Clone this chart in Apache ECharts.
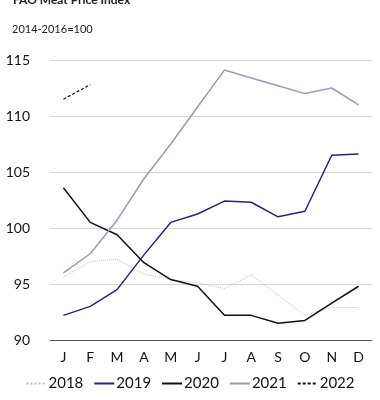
<!DOCTYPE html>
<html><head><meta charset="utf-8">
<script src="https://cdn.jsdelivr.net/npm/echarts@6/dist/echarts.min.js"></script>
<style>html,body{margin:0;padding:0;background:#fff}#c{width:380px;height:400px}</style>
</head><body><div id="c"></div>
<script>
const months = ['J','F','M','A','M','J','J','A','S','O','N','D'];
const s2018 = [95.6, 97.0, 97.2, 95.9, 95.4, 95.1, 94.6, 95.8, 94.0, 92.2, 92.9, 92.9];
const s2019 = [92.2, 93.0, 94.5, 97.6, 100.5, 101.25, 102.4, 102.3, 101.0, 101.5, 106.5, 106.6];
const s2020 = [103.6, 100.5, 99.4, 96.9, 95.4, 94.8, 92.2, 92.2, 91.5, 91.75, 93.3, 94.8];
const s2021 = [96.0, 97.7, 100.7, 104.4, 107.5, 110.8, 114.1, 113.4, 112.7, 112.0, 112.5, 111.0];
const s2022 = [111.5, 112.8];
const yTicks = [90, 95, 100, 105, 110, 115];
const chart = echarts.init(document.getElementById('c'));
const font = 'Lato, "Open Sans", sans-serif';
function line(name, data, color, type, width) {
  return {name, type:'line', data, symbol:'none', smooth:false,
    lineStyle:{color, type, width}, itemStyle:{color}, emphasis:{disabled:true}};
}
chart.setOption({
  animation:false,
  textStyle:{fontFamily:font},
  title:[
    {text:'FAO Meat Price Index', left:8, top:-11, textStyle:{fontSize:12, fontWeight:'bold', color:'#222', fontFamily:font}},
    {text:'2014-2016=100', left:7, top:19, textStyle:{fontSize:11, fontWeight:'normal', color:'#222', fontFamily:font}}
  ],
  grid:{left:50, right:8, top:60, bottom:60},
  xAxis:{type:'category', data:months, boundaryGap:true,
    axisLine:{lineStyle:{color:'#555', width:1}},
    axisTick:{inside:true, length:4, lineStyle:{color:'#555'}},
    axisLabel:{fontSize:14, color:'#111', margin:10, fontFamily:font}},
  yAxis:{type:'value', min:yTicks[0], max:yTicks[yTicks.length-1], interval:5,
    axisLine:{show:false}, axisTick:{show:false},
    axisLabel:{fontSize:14, color:'#111', margin:20, fontFamily:font},
    splitLine:{lineStyle:{color:'#d9d9d9', width:1}}},
  legend:{bottom:4, left:'center', itemWidth:20, itemHeight:10, itemGap:10,
    itemStyle:{opacity:0},
    textStyle:{fontSize:15, color:'#111', fontFamily:font, padding:[0,0,0,-3]},
    data:['2018','2019','2020','2021','2022']},
  series:[
    line('2018', s2018, '#bdbdbd', 'dotted', 1),
    line('2019', s2019, '#26266e', 'solid', 1.5),
    line('2020', s2020, '#111111', 'solid', 1.5),
    line('2021', s2021, '#939eb3', 'solid', 1.5),
    line('2022', s2022, '#111111', [3,2], 1.2)
  ]
});
</script></body></html>
